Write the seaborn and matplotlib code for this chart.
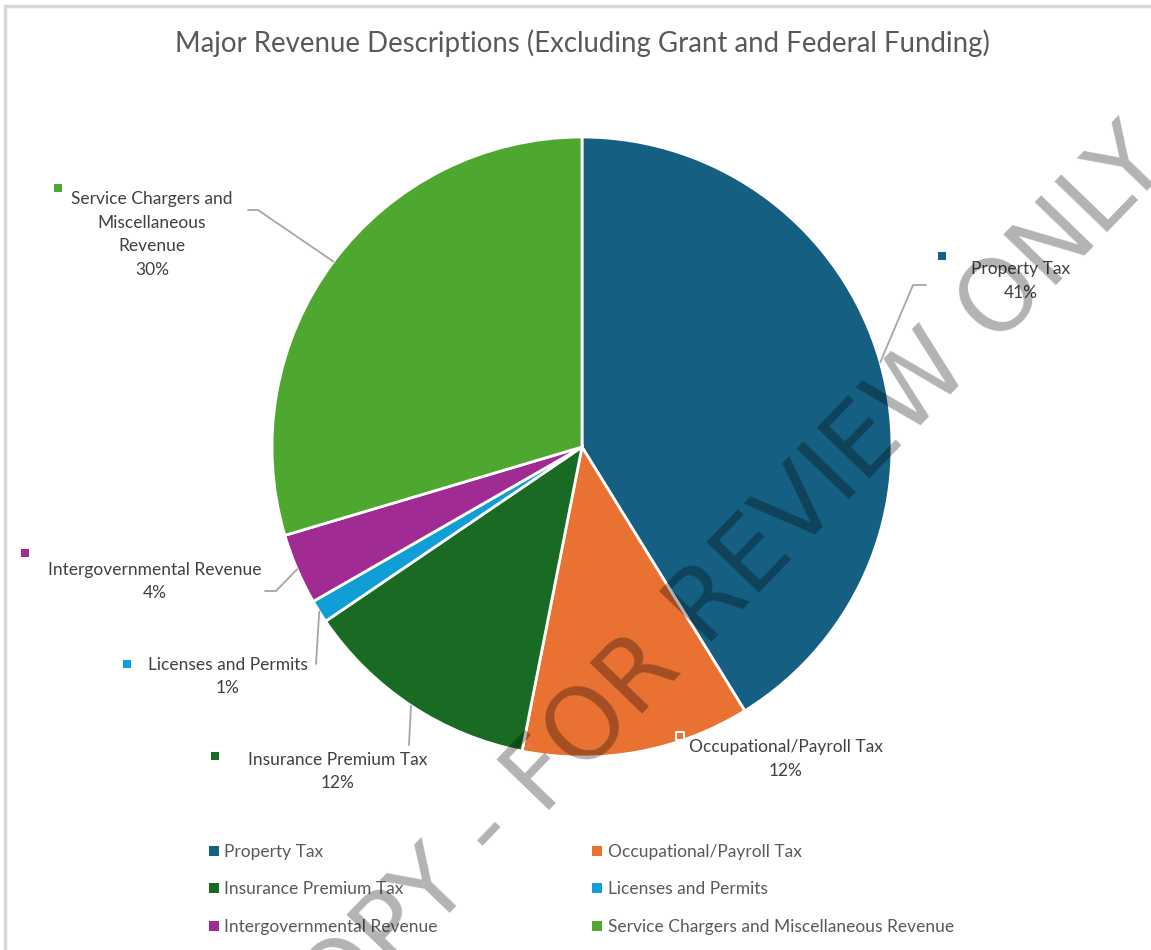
import matplotlib
matplotlib.use("Agg")
import matplotlib.pyplot as plt
import seaborn as sns
import numpy as np
from matplotlib.lines import Line2D
from matplotlib.patches import Rectangle

# ---------------- data ----------------
categories = ["Property Tax", "Occupational/Payroll Tax", "Insurance Premium Tax",
              "Licenses and Permits", "Intergovernmental Revenue",
              "Service Chargers and Miscellaneous Revenue"]
shares = [41.2, 11.9, 12.4, 1.2, 3.7, 29.6]
colors = ["#156082", "#E97132", "#196B24", "#0F9ED5", "#A02B93", "#4EA72E"]
label_texts = ["Property Tax", "Occupational/Payroll Tax", "Insurance Premium Tax",
               "Licenses and Permits", "Intergovernmental Revenue",
               "Service Chargers and\nMiscellaneous\nRevenue"]
title = "Major Revenue Descriptions (Excluding Grant and Federal Funding)"
watermark = "COPY - FOR REVIEW ONLY"

# ---------------- layout (pixels) ----------------
W, H = 1151, 950
CX, CY, R = 582, 447, 310
label_centers = [(1021, 281), (786, 759), (338, 771.5), (228, 676.5), (155, 581.5), (152, 234.5)]
marker_pos = [(942, 256), (680, 736), (215, 756), (127, 664), (25, 553), (58, 188)]
leader_start = [[(926, 285), (913, 285)], None, [(409, 745)], [(316, 664)],
                [(265, 591), (276, 591)], [(248, 210), (258, 210)]]

sns.set_theme(style="white")
plt.rcParams['font.family'] = ['Lato', 'DejaVu Sans']

fig = plt.figure(figsize=(W / 100, H / 100), dpi=100)
ax = fig.add_axes([0, 0, 1, 1])


def fy(py):
    return H - py


palette = sns.color_palette(colors)
wedges, _ = ax.pie(shares, colors=palette, startangle=90, counterclock=False,
                   radius=R, center=(CX, fy(CY)),
                   wedgeprops=dict(edgecolor="white", linewidth=2))
ax.set_xlim(0, W)
ax.set_ylim(0, H)
ax.set_aspect("equal")
ax.axis("off")

total = sum(shares)
cum = np.cumsum([0] + shares)
for i, cat in enumerate(categories):
    pct = shares[i] / total * 100
    txt = f"{label_texts[i]}\n{pct:.0f}%"
    lx, ly = label_centers[i]
    ax.text(lx, fy(ly), txt, ha="center", va="center", fontsize=12.5,
            color="#404040", linespacing=1.6, zorder=5)
    mx, my = marker_pos[i]
    ec = "white" if i == 1 else colors[i]
    ax.scatter([mx], [fy(my)], marker="s", s=40 if i == 1 else 28,
               color=colors[i], edgecolors=ec, linewidths=1.5 if i == 1 else 0, zorder=6)
    if leader_start[i] is not None:
        mid = (cum[i] + cum[i + 1]) / 2 / total * 360
        ex = CX + R * np.sin(np.radians(mid))
        ey = CY - R * np.cos(np.radians(mid))
        pts = leader_start[i] + [(ex, ey)]
        ax.plot([p[0] for p in pts], [fy(p[1]) for p in pts], color="#a6a6a6", lw=1.3, zorder=4)

# title
ax.text(582, fy(43), title, ha="center", va="center", fontsize=19.9, color="#595959")

# legend
order = [0, 2, 4, 1, 3, 5]
handles = [Line2D([0], [0], marker="s", linestyle="none", markersize=7,
                  markerfacecolor=colors[i], markeredgewidth=0) for i in order]
labels = [categories[i] for i in order]
leg = ax.legend(handles, labels, ncol=2, loc="upper left",
                bbox_to_anchor=(193 / W, 1 - 828 / H), frameon=False,
                fontsize=12.5, labelcolor="#595959", handlelength=0.6,
                handletextpad=0.3, labelspacing=1.25, columnspacing=8.9)

# chart border
ax.add_patch(Rectangle((5, -100), W + 100, fy(6) + 100, fill=False,
                       edgecolor="#d9d9d9", lw=2.5, zorder=10))

# watermark
ax.text(712, fy(602), watermark, rotation=46, rotation_mode="anchor",
        ha="center", va="center", fontsize=71, color="black", alpha=0.3,
        family="DejaVu Sans", zorder=20)

fig.savefig("out.png", dpi=100)
